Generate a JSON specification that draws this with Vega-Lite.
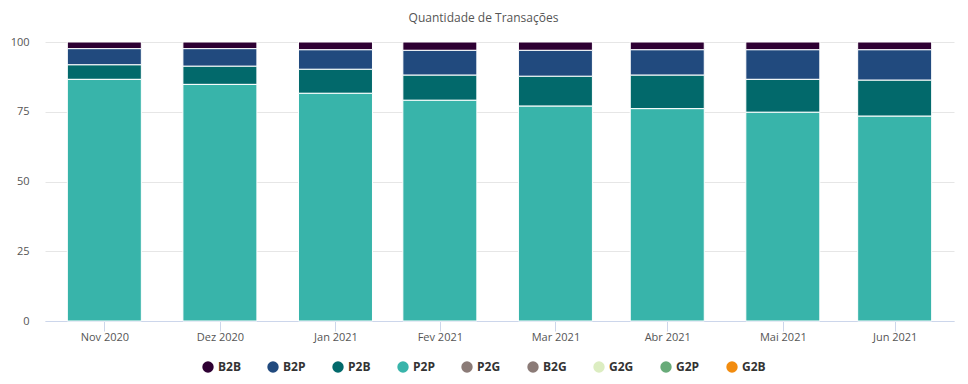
{
  "$schema": "https://vega.github.io/schema/vega-lite/v6.json",
  "width": 909,
  "height": 279,
  "autosize": {"type": "none"},
  "padding": {"left": 45, "top": 42, "right": 14, "bottom": 63},
  "background": "#ffffff",
  "title": {
    "text": "Quantidade de Transações",
    "font": "Open Sans",
    "fontSize": 12,
    "fontWeight": "normal",
    "color": "#555555",
    "anchor": "middle",
    "frame": "group",
    "dx": -16,
    "offset": 11
  },
  "data": {
    "values": [
      {"mes": "2020-11-30", "serie": "B2B", "valor": 2.4},
      {"mes": "2020-11-30", "serie": "B2P", "valor": 5.8},
      {"mes": "2020-11-30", "serie": "P2B", "valor": 5.2},
      {"mes": "2020-11-30", "serie": "P2P", "valor": 86.6},
      {"mes": "2020-12-31", "serie": "B2B", "valor": 2.4},
      {"mes": "2020-12-31", "serie": "B2P", "valor": 6.3},
      {"mes": "2020-12-31", "serie": "P2B", "valor": 6.5},
      {"mes": "2020-12-31", "serie": "P2P", "valor": 84.8},
      {"mes": "2021-01-31", "serie": "B2B", "valor": 2.8},
      {"mes": "2021-01-31", "serie": "B2P", "valor": 7.0},
      {"mes": "2021-01-31", "serie": "P2B", "valor": 8.6},
      {"mes": "2021-01-31", "serie": "P2P", "valor": 81.6},
      {"mes": "2021-02-28", "serie": "B2B", "valor": 3.0},
      {"mes": "2021-02-28", "serie": "B2P", "valor": 8.9},
      {"mes": "2021-02-28", "serie": "P2B", "valor": 9.0},
      {"mes": "2021-02-28", "serie": "P2P", "valor": 79.1},
      {"mes": "2021-03-31", "serie": "B2B", "valor": 3.0},
      {"mes": "2021-03-31", "serie": "B2P", "valor": 9.3},
      {"mes": "2021-03-31", "serie": "P2B", "valor": 10.7},
      {"mes": "2021-03-31", "serie": "P2P", "valor": 77.0},
      {"mes": "2021-04-30", "serie": "B2B", "valor": 2.8},
      {"mes": "2021-04-30", "serie": "B2P", "valor": 9.1},
      {"mes": "2021-04-30", "serie": "P2B", "valor": 12.0},
      {"mes": "2021-04-30", "serie": "P2P", "valor": 76.1},
      {"mes": "2021-05-31", "serie": "B2B", "valor": 2.8},
      {"mes": "2021-05-31", "serie": "B2P", "valor": 10.6},
      {"mes": "2021-05-31", "serie": "P2B", "valor": 11.8},
      {"mes": "2021-05-31", "serie": "P2P", "valor": 74.8},
      {"mes": "2021-06-30", "serie": "B2B", "valor": 2.8},
      {"mes": "2021-06-30", "serie": "B2P", "valor": 10.9},
      {"mes": "2021-06-30", "serie": "P2B", "valor": 12.9},
      {"mes": "2021-06-30", "serie": "P2P", "valor": 73.4}
    ]
  },
  "mark": {"type": "bar", "width": 74, "stroke": "#ffffff", "strokeWidth": 1},
  "encoding": {
    "x": {
      "field": "mes",
      "type": "temporal",
      "scale": {
        "type": "utc",
        "padding": 0,
        "domain": [
          {"year": 2020, "month": 11, "date": 14, "hours": 2, "utc": true},
          {"year": 2021, "month": 7, "date": 15, "hours": 22, "utc": true}
        ]
      },
      "axis": {
        "title": null,
        "values": [
          {"year": 2020, "month": 11, "date": 30, "utc": true},
          {"year": 2020, "month": 12, "date": 31, "utc": true},
          {"year": 2021, "month": 1, "date": 31, "utc": true},
          {"year": 2021, "month": 2, "date": 28, "utc": true},
          {"year": 2021, "month": 3, "date": 31, "utc": true},
          {"year": 2021, "month": 4, "date": 30, "utc": true},
          {"year": 2021, "month": 5, "date": 31, "utc": true},
          {"year": 2021, "month": 6, "date": 30, "utc": true}
        ],
        "labelExpr": "['Jan','Fev','Mar','Abr','Mai','Jun','Jul','Ago','Set','Out','Nov','Dez'][utcmonth(datum.value)] + ' ' + utcyear(datum.value)",
        "grid": false,
        "domainColor": "#ccd6eb",
        "tickColor": "#ccd6eb",
        "tickSize": 10,
        "tickOffset": 0,
        "labelFont": "Open Sans",
        "labelFontSize": 11,
        "labelColor": "#555555",
        "labelPadding": 0,
        "labelFlush": false
      }
    },
    "y": {
      "field": "valor",
      "type": "quantitative",
      "stack": "zero",
      "scale": {"domain": [0, 100], "nice": false},
      "axis": {
        "title": null,
        "values": [0, 25, 50, 75, 100],
        "gridColor": "#e6e6e6",
        "domain": false,
        "ticks": false,
        "labelFont": "Open Sans",
        "labelFontSize": 11,
        "labelColor": "#555555",
        "labelPadding": 16
      }
    },
    "color": {
      "field": "serie",
      "type": "nominal",
      "scale": {
        "domain": ["B2B", "B2P", "P2B", "P2P", "P2G", "B2G", "G2G", "G2P", "G2B"],
        "range": ["#2e0033", "#214a7e", "#02696b", "#38b4aa", "#8b7b77", "#8b7b77", "#dcedc1", "#68ab79", "#f28c0f"]
      },
      "legend": {
        "title": null,
        "orient": "none",
        "legendX": 157,
        "legendY": 319,
        "direction": "horizontal",
        "symbolType": "circle",
        "symbolSize": 130,
        "symbolStrokeWidth": 0,
        "labelFont": "Open Sans",
        "labelFontSize": 12,
        "labelFontWeight": "bold",
        "labelColor": "#333333",
        "columnPadding": 26
      }
    },
    "order": {"field": "serie", "sort": "descending"}
  },
  "config": {
    "view": {"stroke": null}
  }
}
